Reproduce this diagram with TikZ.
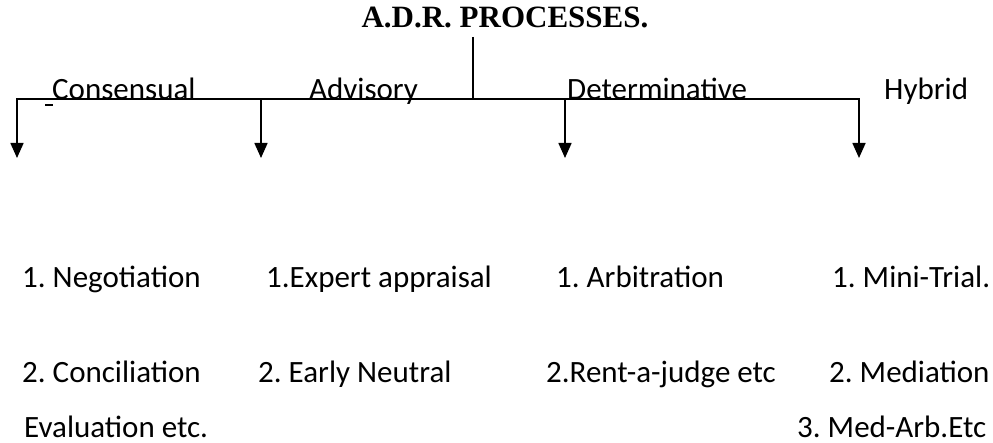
\documentclass[tikz,border=0pt]{standalone}
\usepackage{fontspec}
\setmainfont{Carlito}
\newfontfamily\titlefont{Liberation Serif}
\usetikzlibrary{arrows.meta}
\frenchspacing
\begin{document}
\begin{tikzpicture}[x=1pt,y=-1pt,
  lbl/.style={inner sep=0pt, anchor=base west, font=\fontsize{31}{31}\selectfont\frenchspacing},
  conn/.style={line width=1.6pt},
  arr/.style={conn,-{Triangle[width=13pt,length=15pt]}}]
\useasboundingbox (0,0) rectangle (993,443);
\node[inner sep=0pt, anchor=base, font=\titlefont\bfseries\fontsize{31}{31}\selectfont\frenchspacing] (title) at (505,28) {A.D.R. PROCESSES.};
\coordinate (top) at (473,37);
\coordinate (junction) at (473,99);
\coordinate (b2) at (261,99);
\coordinate (b3) at (565,99);
\coordinate (t1) at (17,158);
\coordinate (t2) at (261,158);
\coordinate (t3) at (565,158);
\coordinate (t4) at (859,158);
\draw[conn] (top) -- (junction);
\draw[arr] (junction) -| (t1);
\draw[arr] (junction) -| (t4);
\draw[arr] (b2) -- (t2);
\draw[arr] (b3) -- (t3);
\draw[line width=1.5pt] (45,105) -- (53,105);
\node[lbl] (cons) at (52,100) {Consensual};
\node[lbl] (adv) at (309,100) {Advisory};
\node[lbl] (det) at (567,100) {Determinative};
\node[lbl] (hyb) at (884,100) {Hybrid};
\node[lbl] (n1) at (22,288) {1. Negotiation};
\node[lbl] (e1) at (266,288) {1.Expert appraisal};
\node[lbl] (a1) at (556,288) {1. Arbitration};
\node[lbl] (m1) at (832,288) {1. Mini-Trial.};
\node[lbl] (n2) at (22,382) {2. Conciliation};
\node[lbl] (e2) at (258,382) {2. Early Neutral};
\node[lbl] (a2) at (546,382) {2.Rent-a-judge etc};
\node[lbl] (m2) at (829,382) {2. Mediation};
\node[lbl] (e3) at (24,437) {Evaluation etc.};
\node[lbl] (m3) at (797,437) {3. Med-Arb.Etc};
\end{tikzpicture}
\end{document}
